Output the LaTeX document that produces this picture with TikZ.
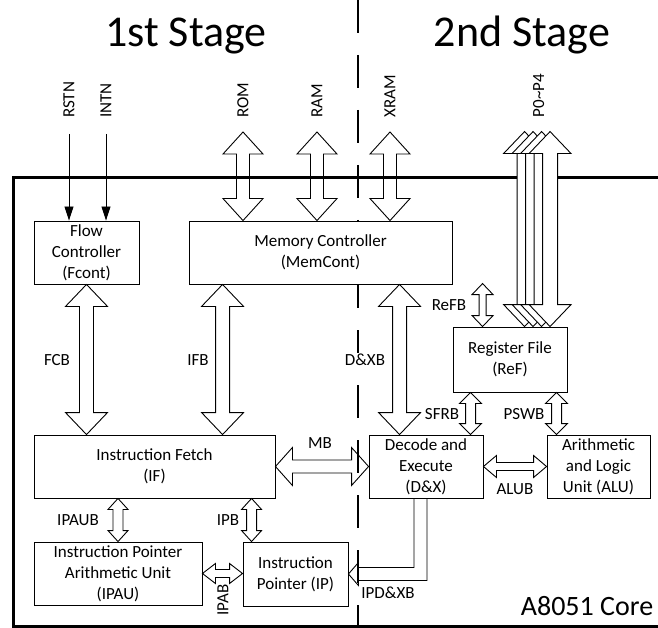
\documentclass[tikz,border=0pt]{standalone}
\usepackage{fontspec}
\setmainfont{Carlito}
\usetikzlibrary{arrows.meta,calc}

% 双向总线箭头：[选项]{起点}{终点}{杆半宽}{头半宽}{头长}
\newcommand\busarrow[6][]{%
  \draw[bus,#1] (#2) -- ($(#2)!#6!(#3)!#5!90:(#3)$) -- ($(#2)!#6!(#3)!#4!90:(#3)$)
    -- ($(#3)!#6!(#2)!#4!-90:(#2)$) -- ($(#3)!#6!(#2)!#5!-90:(#2)$) -- (#3)
    -- ($(#3)!#6!(#2)!#5!90:(#2)$) -- ($(#3)!#6!(#2)!#4!90:(#2)$)
    -- ($(#2)!#6!(#3)!#4!-90:(#3)$) -- ($(#2)!#6!(#3)!#5!-90:(#3)$) -- cycle;}

\begin{document}
\begin{tikzpicture}[x=1pt,y=-1pt,
  box/.style={draw,fill=white,line width=0.9pt,align=center,inner sep=0pt,
    font=\fontsize{17}{21}\selectfont},
  bus/.style={draw,line width=0.9pt,line join=miter},
  lbl/.style={inner sep=1pt,font=\fontsize{17}{20}\selectfont},
  sig/.style={lbl,rotate=90,anchor=west},
  wire/.style={line width=0.9pt,-{Triangle[length=14pt,width=9pt]}},
  core/.style={line width=3pt},
  stage/.style={line width=1.6pt,dash pattern=on 33pt off 22pt},
  title/.style={inner sep=0pt,anchor=base,font=\fontsize{44}{44}\selectfont}]
\useasboundingbox (0,0) rectangle (658,628);
% 标题与分级虚线
\node[title] (st1) at (186,47) {1st Stage};
\node[title] (st2) at (522,47) {2nd Stage};
\draw[stage] (358,0) -- (358,628);
% 核心边框
\draw[core] (658,178) -- (13,178) -- (13,626) -- (658,626);
% 模块
\node[box,minimum width=105pt,minimum height=63pt] (fcont) at (86.5,252.5) {Flow\\Controller\\(Fcont)};
\node[box,minimum width=263pt,minimum height=63pt] (memcont) at (320.5,252.5) {Memory Controller\\(MemCont)};
\node[box,minimum width=241pt,minimum height=63pt] (ifetch) at (154.5,466.5) {Instruction Fetch\\(IF)};
\node[box,minimum width=114pt,minimum height=63pt] (dx) at (426,466.5) {Decode and\\Execute\\(D\&X)};
\node[box,minimum width=103pt,minimum height=63pt] (alu) at (598.5,466.5) {Arithmetic\\and Logic\\Unit (ALU)};
\node[box,minimum width=114pt,minimum height=65pt] (ref) at (510,359.5) {Register File\\(ReF)};
\node[box,minimum width=168pt,minimum height=63pt] (ipau) at (118,573.5) {Instruction Pointer\\Arithmetic Unit\\(IPAU)};
\node[box,minimum width=105pt,minimum height=64pt] (ip) at (295.5,574) {Instruction\\Pointer (IP)};
% 外部信号
\coordinate (rstn) at (69,134);
\coordinate (intn) at (106,134);
\draw[wire] (rstn) -- (rstn |- fcont.north);
\draw[wire] (intn) -- (intn |- fcont.north);
\node[sig] (rstnlbl) at ($(rstn)+(0,-15)$) {RSTN};
\node[sig] (intnlbl) at ($(intn)+(0,-15)$) {INTN};
% 外部总线
\coordinate (rom) at (243,132);
\coordinate (ram) at (317,132);
\coordinate (xram) at (390,132);
\busarrow{rom}{rom |- memcont.north}{6.5pt}{20pt}{22pt}
\busarrow{ram}{ram |- memcont.north}{6.5pt}{20pt}{22pt}
\busarrow{xram}{xram |- memcont.north}{6.5pt}{20pt}{22pt}
\node[sig] (romlbl) at ($(rom)+(0,-13)$) {ROM};
\node[sig] (ramlbl) at ($(ram)+(0,-13)$) {RAM};
\node[sig] (xramlbl) at ($(xram)+(0,-13)$) {XRAM};
% 端口 P0~P4（叠放）
\foreach \k in {3,2,1,0}{
  \pgfmathsetmacro\dx{97.5-8.5*\k}
  \coordinate (ptop\k) at ($(ref.north west)+(\dx,-195)$);
  \coordinate (pbot\k) at ($(ref.north west)+(\dx,0)$);
  \busarrow[fill=white]{ptop\k}{pbot\k}{7.5pt}{21pt}{22pt}
}
\node[sig] (portlbl) at ($(ptop0)+(-11.5,-13)$) {P0\textasciitilde P4};
% 内部总线
\busarrow{fcont.south}{fcont.south |- ifetch.north}{7pt}{21pt}{22pt}
\coordinate (ifb) at ([xshift=34pt]memcont.south west);
\busarrow{ifb}{ifb |- ifetch.north}{7pt}{21pt}{22pt}
\coordinate (dxb) at ([xshift=31pt]dx.north west);
\busarrow{dxb |- memcont.south}{dxb}{7pt}{21pt}{22pt}
\coordinate (refb) at ([xshift=30pt,yshift=43pt]ref.north west);
\busarrow{refb}{refb |- ref.north}{3.5pt}{10.5pt}{11pt}
\coordinate (sfrb) at ([xshift=18pt]ref.south west);
\busarrow{sfrb}{sfrb |- dx.north}{5pt}{11pt}{11pt}
\coordinate (pswb) at ([xshift=104pt]ref.south west);
\busarrow{pswb}{pswb |- alu.north}{5pt}{11pt}{11pt}
\busarrow{ipau.north |- ifetch.south}{ipau.north}{5pt}{10pt}{11pt}
\coordinate (ipb) at ([xshift=9pt]ip.north west);
\busarrow{ipb |- ifetch.south}{ipb}{5pt}{10pt}{11pt}
\busarrow{ifetch.east}{ifetch.east -| dx.west}{6.5pt}{19pt}{17pt}
\busarrow{dx.east}{alu.west}{4pt}{11pt}{13pt}
\busarrow{ipau.east}{ipau.east -| ip.west}{4pt}{10pt}{13pt}
% 回写总线（单向）
\draw[bus] ([xshift=-12pt]dx.south) |- ($(ip.east)+(10,-6.5)$) -- ++(0,-5) -- (ip.east)
  -- ($(ip.east)+(10,11.5)$) -- ++(0,-5) -| ([xshift=1pt]dx.south);
% 总线标签
\node[lbl] (fcblbl) at (57,360) {FCB};
\node[lbl] (ifblbl) at (198,360) {IFB};
\node[lbl,fill=white] (dxblbl) at (365,360) {D\&XB};
\node[lbl] (refblbl) at (449,305) {ReFB};
\node[lbl] (sfrblbl) at (442,414) {SFRB};
\node[lbl] (pswblbl) at (524,414) {PSWB};
\node[lbl] (mblbl) at (320,443) {MB};
\node[lbl] (alublbl) at (515,489) {ALUB};
\node[lbl] (ipaublbl) at (78,520) {IPAUB};
\node[lbl] (ipblbl) at (228,520) {IPB};
\node[lbl,rotate=90] (ipablbl) at (223,600) {IPAB};
\node[lbl] (ipdxblbl) at (388,593) {IPD\&XB};
\node[inner sep=0pt,anchor=base,font=\fontsize{28}{28}\selectfont] (corelbl) at (587,615) {A8051 Core};
\end{tikzpicture}
\end{document}
